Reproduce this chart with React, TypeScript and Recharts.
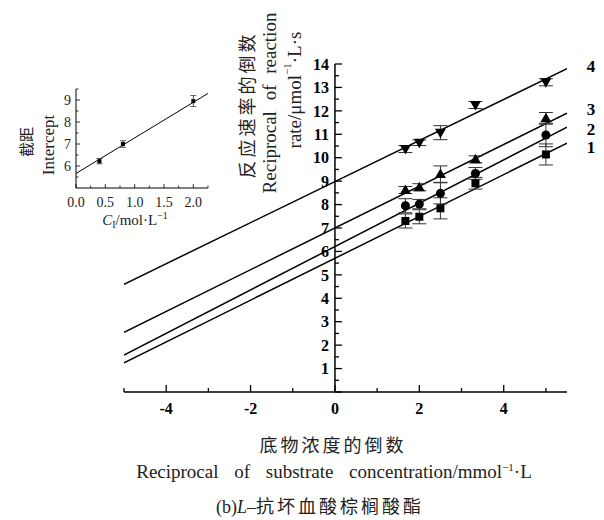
import { ComposedChart, Line, Scatter, XAxis, YAxis, ErrorBar, ReferenceLine } from "recharts";

// substrate reciprocal (x) for the measured points
const substrateX = [1.67, 2, 2.5, 3.33, 5];

// reciprocal rate for each inhibitor level (1 = none ... 4 = highest)
const rate1 = [7.3, 7.48, 7.84, 8.91, 10.14];
const err1 = [0.3, 0.3, 0.45, 0.25, 0.45];
const rate2 = [7.95, 8.02, 8.48, 9.33, 10.97];
const err2 = [0.3, 0.2, 0.45, 0.25, 0.5];
const rate3 = [8.62, 8.74, 9.3, 9.93, 11.68];
const err3 = [0.15, 0.15, 0.35, 0.15, 0.25];
const rate4 = [10.37, 10.64, 11.07, 12.25, 13.22];
const err4 = [0.15, 0.12, 0.3, 0.15, 0.15];

// fitted lines, value at each end of fitX
const fitX = [-5, 5.5];
const fit1 = [1.24, 10.62];
const fit2 = [1.58, 11.3];
const fit3 = [2.55, 11.9];
const fit4 = [4.6, 13.8];
const seriesNames = ["1", "2", "3", "4"];

const xTicks = [-5, -4, -3, -2, -1, 0, 1, 2, 3, 4, 5];
const xTickLabels = ["-4", "-2", "0", "2", "4"];
const yTicks = [0, 0.5, 1, 1.5, 2, 2.5, 3, 3.5, 4, 4.5, 5, 5.5, 6, 6.5, 7, 7.5, 8, 8.5, 9, 9.5, 10, 10.5, 11, 11.5, 12, 12.5, 13, 13.5, 14];

// inset: intercept vs inhibitor concentration
const inhibitorC = [0.4, 0.8, 2.0];
const interceptY = [6.22, 7.0, 8.95];
const interceptErr = [0.12, 0.15, 0.25];
const interceptFitX = [0, 2.25];
const interceptFitY = [5.66, 9.3];
const insetXTicks = [0, 0.25, 0.5, 0.75, 1, 1.25, 1.5, 1.75, 2, 2.25];
const insetXLabels = ["0.0", "0.5", "1.0", "1.5", "2.0"];
const insetYTicks = [5.5, 6, 6.5, 7, 7.5, 8, 8.5, 9, 9.5];

const SERIF = "'Liberation Serif', 'Times New Roman', 'Noto Sans CJK SC', serif";
const CJK = "'Noto Sans CJK SC', 'Liberation Serif', serif";

// main plot box
const LEFT = 124;
const RIGHT = 567;
const TOP = 64;
const BOTTOM = 392;
const XMIN = -5;
const XMAX = 5.5;
const AXIS0 = LEFT + ((0 - XMIN) / (XMAX - XMIN)) * (RIGHT - LEFT);

// inset plot box
const I_LEFT = 76;
const I_TOP = 90;
const I_BOTTOM = 188;
const I_W = 230;
const I_H = 240;

const toPoints = (xs: number[], ys: number[], es?: number[]) =>
  xs.map((x, i) => ({ x, y: ys[i], err: es ? es[i] : 0 }));

const points = [
  toPoints(substrateX, rate1, err1),
  toPoints(substrateX, rate2, err2),
  toPoints(substrateX, rate3, err3),
  toPoints(substrateX, rate4, err4),
];
const fits = [fit1, fit2, fit3, fit4].map((f) => toPoints(fitX, f));
const labelDy = [4, 2, -4, -3];

const Square = (p: any) => <rect x={p.cx - 4} y={p.cy - 4} width={8} height={8} fill="#000" />;
const Dot = (p: any) => <circle cx={p.cx} cy={p.cy} r={4.5} fill="#000" />;
const TriUp = (p: any) => (
  <path d={`M${p.cx},${p.cy - 5.5}L${p.cx + 5.5},${p.cy + 4}L${p.cx - 5.5},${p.cy + 4}Z`} fill="#000" />
);
const TriDown = (p: any) => (
  <path d={`M${p.cx},${p.cy + 5.5}L${p.cx + 5.5},${p.cy - 4}L${p.cx - 5.5},${p.cy - 4}Z`} fill="#000" />
);
const shapes = [Square, Dot, TriUp, TriDown];
const InsetMark = (p: any) => <rect x={p.cx - 2} y={p.cy - 2} width={4} height={4} fill="#000" />;

function MainXTick(props: any) {
  const v = props.payload.value;
  const major = v % 2 === 0;
  const label = xTickLabels.includes(String(v)) ? String(v) : null;
  return (
    <g>
      <line x1={props.x} x2={props.x} y1={BOTTOM} y2={BOTTOM - (major ? 7 : 4)} stroke="#000" strokeWidth={1.3} />
      {label && (
        <text x={props.x} y={BOTTOM + 22} textAnchor="middle" fontFamily={SERIF} fontWeight="bold" fontSize={16} fill="#000">
          {label}
        </text>
      )}
    </g>
  );
}

function MainYTick(props: any) {
  const v = props.payload.value;
  const major = Number.isInteger(v);
  return (
    <g>
      <line x1={AXIS0} x2={AXIS0 + (major ? 7 : 4)} y1={props.y} y2={props.y} stroke="#000" strokeWidth={1.3} />
      {major && v !== 0 && (
        <text x={AXIS0 - 6} y={props.y} dy="0.36em" textAnchor="end" fontFamily={SERIF} fontWeight="bold" fontSize={16} fill="#000">
          {v}
        </text>
      )}
    </g>
  );
}

function InsetXTick(props: any) {
  const v = props.payload.value;
  const major = Number.isInteger(v * 2);
  const label = insetXLabels.find((l) => Number(l) === v);
  return (
    <g>
      <line x1={props.x} x2={props.x} y1={I_BOTTOM} y2={I_BOTTOM - (major ? 4 : 2.5)} stroke="#000" strokeWidth={0.8} />
      {major && label && (
        <text x={props.x} y={I_BOTTOM + 19} textAnchor="middle" fontFamily={SERIF} fontSize={14} fill="#222">
          {label}
        </text>
      )}
    </g>
  );
}

function InsetYTick(props: any) {
  const v = props.payload.value;
  const major = Number.isInteger(v);
  return (
    <g>
      <line x1={I_LEFT} x2={I_LEFT + (major ? 4 : 2.5)} y1={props.y} y2={props.y} stroke="#000" strokeWidth={0.8} />
      {major && (
        <text x={I_LEFT - 5} y={props.y} dy="0.36em" textAnchor="end" fontFamily={SERIF} fontSize={14} fill="#222">
          {v}
        </text>
      )}
    </g>
  );
}

export default function App() {
  return (
    <div style={{ position: "absolute", left: 0, top: 0, width: 604, height: 520, background: "#fff" }}>
      <ComposedChart width={604} height={520} margin={{ top: TOP, right: 604 - RIGHT, bottom: 520 - BOTTOM - 30, left: LEFT - 30 }}>
        <XAxis
          type="number"
          dataKey="x"
          domain={[XMIN, XMAX]}
          ticks={xTicks}
          interval={0}
          height={30}
          allowDataOverflow
          axisLine={{ stroke: "#000", strokeWidth: 1.5 }}
          tickLine={false}
          tick={(p: any) => <MainXTick {...p} />}
        />
        <YAxis
          type="number"
          dataKey="y"
          domain={[0, 14]}
          ticks={yTicks}
          interval={0}
          width={30}
          axisLine={false}
          tickLine={false}
          tick={(p: any) => <MainYTick {...p} />}
        />
        <ReferenceLine x={0} stroke="#000" strokeWidth={1.5} />
        {fits.map((d, i) => (
          <Line
            key={"fit" + i}
            data={d}
            dataKey="y"
            stroke="#000"
            strokeWidth={1.5}
            dot={false}
            isAnimationActive={false}
            label={(p: any) =>
              p.index === 1 ? (
                <text key={"lb" + i} x={p.x + 24} y={p.y + labelDy[i]} dy="0.36em" textAnchor="middle" fontFamily={SERIF} fontWeight="bold" fontSize={17} fill="#000">
                  {seriesNames[i]}
                </text>
              ) : (
                <g key={"lb" + i + "-" + p.index} />
              )
            }
          />
        ))}
        {points.map((d, i) => (
          <Scatter key={"pts" + i} data={d} dataKey="y" shape={shapes[i]} isAnimationActive={false}>
            <ErrorBar dataKey="err" direction="y" width={7} stroke="#333" strokeWidth={1} />
          </Scatter>
        ))}
      </ComposedChart>

      <div style={{ position: "absolute", left: 0, top: 0 }}>
        <ComposedChart width={I_W} height={I_H} margin={{ top: I_TOP - 1, right: 22, bottom: I_H - I_BOTTOM - 20, left: I_LEFT - 20 }}>
          <XAxis
            type="number"
            dataKey="x"
            domain={[0, 2.25]}
            ticks={insetXTicks}
            interval={0}
            height={20}
            axisLine={{ stroke: "#000", strokeWidth: 1 }}
            tickLine={false}
            tick={(p: any) => <InsetXTick {...p} />}
          />
          <YAxis
            type="number"
            dataKey="y"
            domain={[5, 9.5]}
            ticks={insetYTicks}
            interval={0}
            width={20}
            axisLine={{ stroke: "#000", strokeWidth: 1 }}
            tickLine={false}
            tick={(p: any) => <InsetYTick {...p} />}
          />
          <Line data={toPoints(interceptFitX, interceptFitY)} dataKey="y" stroke="#000" strokeWidth={1} dot={false} isAnimationActive={false} />
          <Scatter data={toPoints(inhibitorC, interceptY, interceptErr)} dataKey="y" shape={InsetMark} isAnimationActive={false}>
            <ErrorBar dataKey="err" direction="y" width={3} stroke="#333" strokeWidth={0.8} />
          </Scatter>
        </ComposedChart>
      </div>

      <svg width={604} height={520} style={{ position: "absolute", left: 0, top: 0, pointerEvents: "none" }}>
        {/* inset titles */}
        <text transform="translate(25,142) rotate(-90)" textAnchor="middle" dominantBaseline="central" fontFamily={CJK} fontSize={15} fill="#222">
          截距
        </text>
        <text transform="translate(48,145) rotate(-90)" textAnchor="middle" dominantBaseline="central" fontFamily={SERIF} fontSize={17} fill="#222">
          Intercept
        </text>
        <text x={135} y={225} textAnchor="middle" fontFamily={SERIF} fontSize={15} fill="#222">
          <tspan fontStyle="italic">C</tspan>
          <tspan fontSize={10} dy={3}>I</tspan>
          <tspan dy={-3}>/mol·L</tspan>
          <tspan fontSize={10} dy={-6}>−1</tspan>
        </text>

        {/* main y title */}
        <text transform="translate(246,105) rotate(-90)" textAnchor="middle" dominantBaseline="central" fontFamily={CJK} fontSize={18} letterSpacing={3} fill="#222">
          反应速率的倒数
        </text>
        <text transform="translate(269,103) rotate(-90)" textAnchor="middle" dominantBaseline="central" fontFamily={SERIF} fontSize={19} wordSpacing={6} fill="#222">
          Reciprocal of reaction
        </text>
        <text transform="translate(294,90) rotate(-90)" textAnchor="middle" dominantBaseline="central" fontFamily={SERIF} fontSize={19} fill="#222">
          <tspan>rate/μmol</tspan>
          <tspan fontSize={11} dy={-7}>−1</tspan>
          <tspan dy={7}>·L·s</tspan>
        </text>

        {/* main x title and caption */}
        <text x={333} y={452} textAnchor="middle" fontFamily={CJK} fontSize={18} letterSpacing={3} fill="#222">
          底物浓度的倒数
        </text>
        <text x={334} y={478} textAnchor="middle" fontFamily={SERIF} fontSize={19} wordSpacing={11} fill="#222">
          <tspan>Reciprocal of substrate concentration/mmol</tspan>
          <tspan fontSize={11} dy={-7}>−1</tspan>
          <tspan dy={7}>·L</tspan>
        </text>
        <text x={320} y={513} textAnchor="middle" fontFamily={SERIF} fontSize={18} fill="#222">
          <tspan>(b)</tspan>
          <tspan fontStyle="italic">L</tspan>
          <tspan>–</tspan>
          <tspan fontFamily={CJK} letterSpacing={3}>抗坏血酸棕榈酸酯</tspan>
        </text>
      </svg>
    </div>
  );
}
